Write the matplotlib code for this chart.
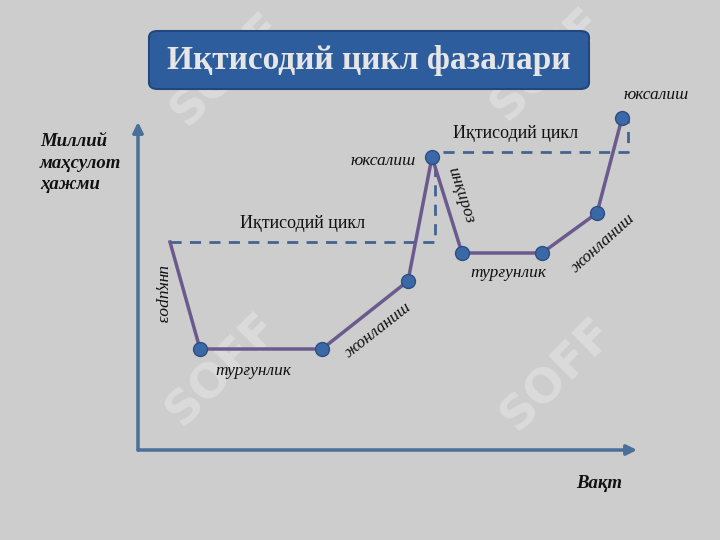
import matplotlib
matplotlib.use("Agg")
import matplotlib.pyplot as plt
from matplotlib.patches import FancyBboxPatch, FancyArrowPatch

# ---------------------------------------------------------------------------
# Data (time on x, national output on y; origin at the axes corner)
# ---------------------------------------------------------------------------
cycle_x = [32, 62, 184, 270, 294, 324, 404, 459, 484]
cycle_y = [208, 101, 101, 169, 293, 197, 197, 237, 332]
marker_idx = [1, 2, 3, 4, 5, 6, 7, 8]

cycle1_x = [32, 297, 297]
cycle1_y = [208, 208, 283]
cycle2_x = [305, 490, 490]
cycle2_y = [298, 298, 330]

title = "Иқтисодий цикл фазалари"
y_label = "Миллий\nмаҳсулот\nҳажми"
x_label = "Вақт"
cycle_label = "Иқтисодий цикл"
phase_labels = [
    # text, x, y, rotation
    ("инқироз", 24, 156, -90),
    ("турғунлик", 115, 79, 0),
    ("жонланиш", 240, 120, 38),
    ("юксалиш", 245, 289, 0),
    ("инқироз", 323, 255, -72),
    ("турғунлик", 370, 177, 0),
    ("жонланиш", 465, 207, 42),
    ("юксалиш", 518, 355, 0),
]

BG = "#cdcdcd"
AXIS_C = "#4a6f98"
LINE_C = "#6b5a8e"
DOT_C = "#3b69a8"
DASH_C = "#44648f"

fig = plt.figure(figsize=(7.2, 5.4), dpi=100, facecolor=BG)
ax = fig.add_axes([0, 0, 1, 1])
ax.set_facecolor(BG)
ax.set_xlim(-138, 582)
ax.set_ylim(-90, 450)
ax.axis("off")

# faint watermarks
for wx, wy in [(85, 80), (420, 75), (90, 380), (410, 385)]:
    ax.text(wx, wy, "SOFF", fontsize=34, fontweight="bold", color="white",
            alpha=0.28, rotation=45, ha="center", va="center",
            family="DejaVu Sans", zorder=0)

# axes arrows
ax.add_patch(FancyArrowPatch((0, 0), (0, 328), arrowstyle="-|>,head_length=6,head_width=3",
                             color=AXIS_C, lw=2.5, shrinkA=0, shrinkB=0, zorder=2))
ax.add_patch(FancyArrowPatch((0, 0), (499, 0), arrowstyle="-|>,head_length=6,head_width=3",
                             color=AXIS_C, lw=2.5, shrinkA=0, shrinkB=0, zorder=2))

# dashed cycle markers
ax.plot(cycle1_x, cycle1_y, color=DASH_C, lw=2, ls=(0, (4, 3)), zorder=2)
ax.plot(cycle2_x, cycle2_y, color=DASH_C, lw=2, ls=(0, (4, 3)), zorder=2)

# cycle line
ax.plot(cycle_x, cycle_y, color=LINE_C, lw=2.5, zorder=3)
ax.plot([cycle_x[i] for i in marker_idx], [cycle_y[i] for i in marker_idx],
        ls="none", marker="o", ms=10, mfc=DOT_C, mec="#2c4f80", mew=1, zorder=4)

serif = "Liberation Serif"
ax.text(165, 226, cycle_label, fontsize=13, family=serif, ha="center", va="center", color="#111111")
ax.text(378, 316, cycle_label, fontsize=13, family=serif, ha="center", va="center", color="#111111")

for txt, tx, ty, rot in phase_labels:
    ax.text(tx, ty, txt, fontsize=12.5, family=serif, style="italic",
            ha="center", va="center", rotation=rot, rotation_mode="anchor", color="#111111")

ax.text(-98, 287, y_label, fontsize=13.5, family=serif, style="italic", weight="bold",
        ha="left", va="center", linespacing=1.35, color="#111111")
ax.text(461, -33, x_label, fontsize=13.5, family=serif, style="italic", weight="bold",
        ha="center", va="center", color="#111111")

# title box
box = FancyBboxPatch((149 / 720, 1 - 89 / 540), 440 / 720, 58 / 540,
                     boxstyle="round,pad=0,rounding_size=0.012",
                     transform=fig.transFigure, facecolor="#2e5d9e",
                     edgecolor="#22477d", lw=1.5, zorder=5)
fig.patches.append(box)
fig.text(369 / 720, 1 - 60 / 540, title, fontsize=24, family=serif, weight="bold",
         color="#e6e6e6", ha="center", va="center", zorder=6)

fig.savefig("out.png", dpi=100, facecolor=BG)
